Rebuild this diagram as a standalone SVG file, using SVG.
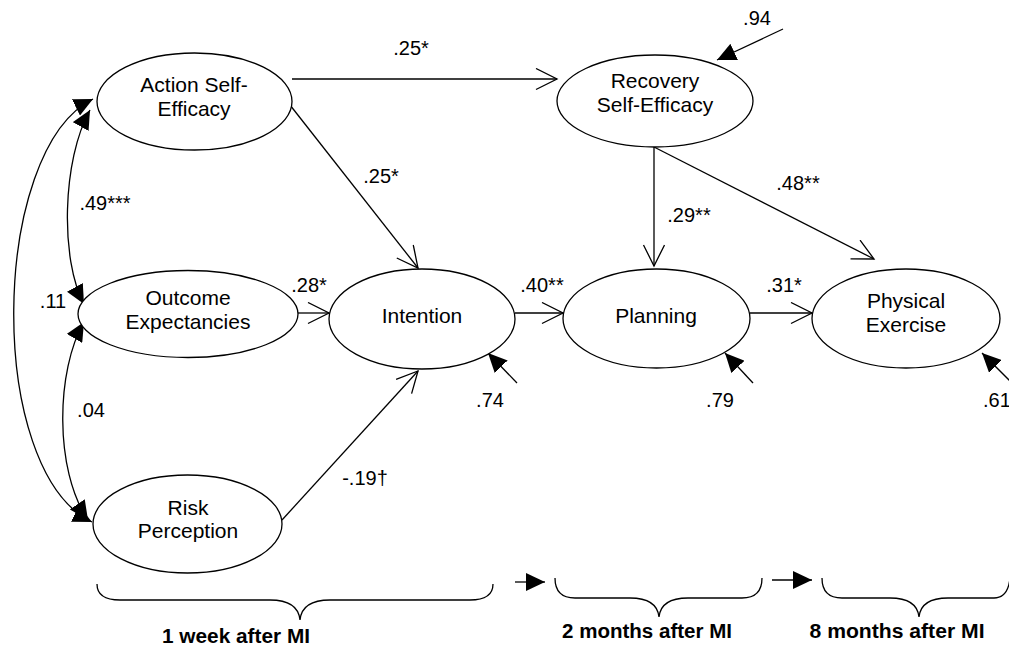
<svg xmlns="http://www.w3.org/2000/svg" width="1009" height="658" viewBox="0 0 1009 658">
<style>
.node ellipse{fill:#fff;stroke:#000;stroke-width:1.3}
.lbl{font-family:"Liberation Sans",Arial,sans-serif;font-size:21px;fill:#000;text-anchor:middle}
.num{font-family:"Liberation Sans",Arial,sans-serif;font-size:20px;fill:#000;text-anchor:middle}
.time{font-family:"Liberation Sans",Arial,sans-serif;font-size:20px;font-weight:bold;fill:#000;text-anchor:middle}
.edge{fill:none;stroke:#000;stroke-width:1.3}
.open{marker-end:url(#openHead)}
.filled{marker-end:url(#fillHead)}
.cov{marker-start:url(#fillHead);marker-end:url(#fillHead)}
</style>
<defs>
<marker id="openHead" markerUnits="userSpaceOnUse" viewBox="0 0 24 24" refX="22" refY="11" markerWidth="24" markerHeight="24" orient="auto">
<path d="M1,0.5 L22,11 L1,21.5" fill="none" stroke="#000" stroke-width="1.3"/>
</marker>
<marker id="fillHead" markerUnits="userSpaceOnUse" viewBox="0 0 20 18" refX="19" refY="9" markerWidth="20" markerHeight="18" orient="auto-start-reverse">
<path d="M0,0 L19,9 L0,18 z" fill="#000"/>
</marker>
</defs>

<g id="connectors">
<path class="edge open" d="M292 79 L557 79"/>
<path class="edge open" d="M290 105 L418 268"/>
<path class="edge open" d="M298 313 L329 313"/>
<path class="edge open" d="M282 520 L418 371"/>
<path class="edge open" d="M515 313 L563 313"/>
<path class="edge open" d="M750 313 L812 313"/>
<path class="edge open" d="M654 147 L654 266"/>
<path class="edge open" d="M654 147 L874 259"/>
<path class="edge filled" d="M783 29 L717 60"/>
<path class="edge filled" d="M517 383 L488 353"/>
<path class="edge filled" d="M753 383 L725 353"/>
<path class="edge filled" d="M1010 381 L982 353"/>
<path class="edge cov" d="M93 99 C-10 150 -15 470 92 522"/>
<path class="edge cov" d="M90 110 C62 160 60 260 84 304"/>
<path class="edge cov" d="M84 322 C56 370 54 470 88 520"/>
<path class="edge filled" d="M515 582 L545 582"/>
<path class="edge filled" d="M772 580 L812 580"/>
<path class="edge" d="M97 584 Q97 600 120 600 L270 600 Q298 600 300 620 Q302 600 330 600 L470 600 Q493 600 493 584"/>
<path class="edge" d="M555 578 Q555 598 575 598 L630 598 Q657 598 659 617 Q661 598 688 598 L742 598 Q762 598 762 578"/>
<path class="edge" d="M822 578 Q822 598 842 598 L890 598 Q917 598 919 617 Q921 598 948 598 L994 598 Q1008 598 1010 578"/>
<text class="num" x="411" y="55">.25*</text>
<text class="num" x="381" y="183">.25*</text>
<text class="num" x="105" y="210">.49***</text>
<text class="num" x="53" y="308">.11</text>
<text class="num" x="91" y="417">.04</text>
<text class="num" x="309" y="292">.28*</text>
<text class="num" x="542" y="292">.40**</text>
<text class="num" x="365" y="485">-.19†</text>
<text class="num" x="490" y="407">.74</text>
<text class="num" x="720" y="407">.79</text>
<text class="num" x="983" y="407" style="text-anchor:start">.61</text>
<text class="num" x="784" y="292">.31*</text>
<text class="num" x="689" y="222">.29**</text>
<text class="num" x="798" y="190">.48**</text>
<text class="num" x="757" y="25">.94</text>
</g>

<g id="action-self-efficacy" class="node">
<ellipse cx="194.5" cy="101.5" rx="97.5" ry="48.5"/>
<text class="lbl" x="194" y="92">Action Self-</text>
<text class="lbl" x="194" y="116">Efficacy</text>
</g>
<g id="outcome-expectancies" class="node">
<ellipse cx="188" cy="314" rx="110" ry="43.5"/>
<text class="lbl" x="188" y="305">Outcome</text>
<text class="lbl" x="188" y="329">Expectancies</text>
</g>
<g id="risk-perception" class="node">
<ellipse cx="187.5" cy="524" rx="94.5" ry="49"/>
<text class="lbl" x="188" y="515">Risk</text>
<text class="lbl" x="188" y="538">Perception</text>
</g>
<g id="intention" class="node">
<ellipse cx="422" cy="319" rx="93" ry="50"/>
<text class="lbl" x="422" y="323">Intention</text>
</g>
<g id="recovery-self-efficacy" class="node">
<ellipse cx="655" cy="101" rx="98" ry="46"/>
<text class="lbl" x="655" y="88">Recovery</text>
<text class="lbl" x="655" y="112">Self-Efficacy</text>
</g>
<g id="planning" class="node">
<ellipse cx="656.5" cy="318.5" rx="93.5" ry="49.5"/>
<text class="lbl" x="656" y="323">Planning</text>
</g>
<g id="physical-exercise" class="node">
<ellipse cx="906" cy="318.5" rx="94" ry="49.5"/>
<text class="lbl" x="906" y="308">Physical</text>
<text class="lbl" x="906" y="332">Exercise</text>
</g>

<g id="time-labels">
<text class="time" x="236" y="643" textLength="148" lengthAdjust="spacingAndGlyphs">1 week after MI</text>
<text class="time" x="647" y="638" textLength="170" lengthAdjust="spacingAndGlyphs">2 months after MI</text>
<text class="time" x="897" y="638" textLength="175" lengthAdjust="spacingAndGlyphs">8 months after MI</text>
</g>
</svg>
